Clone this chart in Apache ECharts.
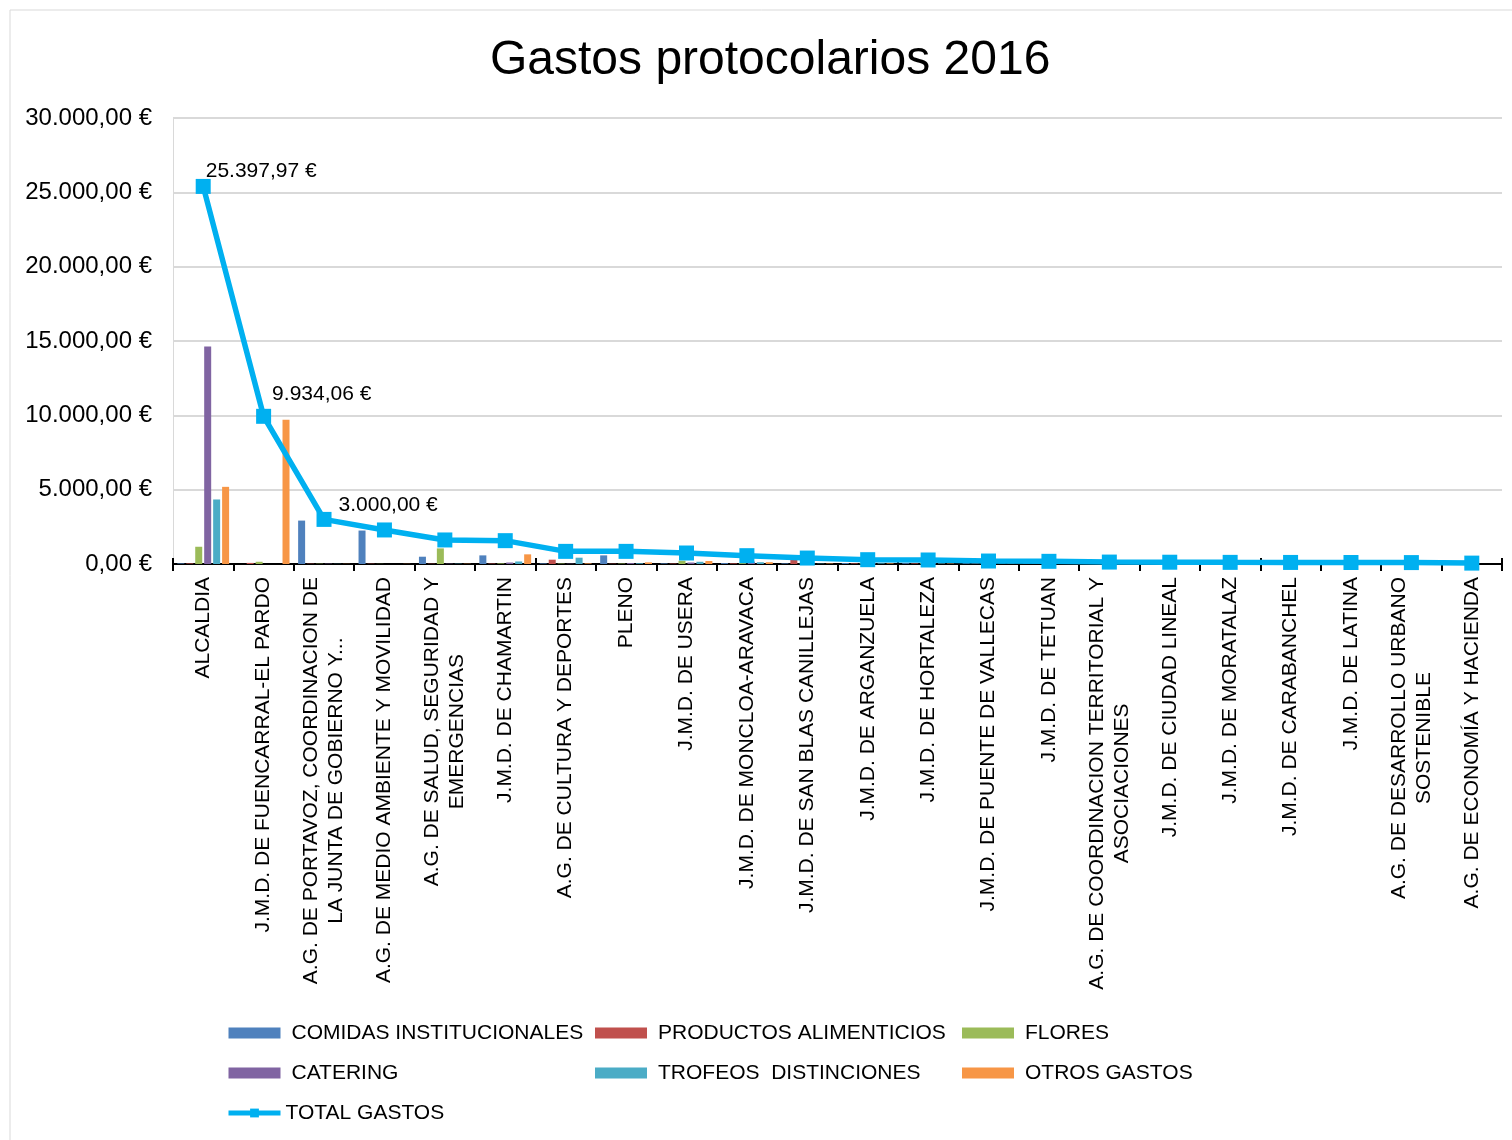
<!DOCTYPE html>
<html>
<head>
<meta charset="utf-8">
<title>Gastos protocolarios 2016</title>
<script src="https://cdn.jsdelivr.net/npm/echarts@6/dist/echarts.min.js"></script>
<style>
  html, body { margin: 0; padding: 0; background: #fff; }
  #main { width: 1512px; height: 1140px; }
</style>
</head>
<body>
<div id="main"></div>
<script>
// categorias (ordenadas por total)
const categorias = [
  "ALCALDIA",
  "J.M.D. DE FUENCARRAL-EL PARDO",
  "A.G. DE PORTAVOZ, COORDINACION DE\nLA JUNTA DE GOBIERNO Y...",
  "A.G. DE MEDIO AMBIENTE Y MOVILIDAD",
  "A.G. DE SALUD, SEGURIDAD Y\nEMERGENCIAS",
  "J.M.D. DE CHAMARTIN",
  "A.G. DE CULTURA Y DEPORTES",
  "PLENO",
  "J.M.D. DE USERA",
  "J.M.D. DE MONCLOA-ARAVACA",
  "J.M.D. DE SAN BLAS CANILLEJAS",
  "J.M.D. DE ARGANZUELA",
  "J.M.D. DE HORTALEZA",
  "J.M.D. DE PUENTE DE VALLECAS",
  "J.M.D. DE TETUAN",
  "A.G. DE COORDINACION TERRITORIAL Y\nASOCIACIONES",
  "J.M.D. DE CIUDAD LINEAL",
  "J.M.D. DE MORATALAZ",
  "J.M.D. DE CARABANCHEL",
  "J.M.D. DE LATINA",
  "A.G. DE DESARROLLO URBANO\nSOSTENIBLE",
  "A.G. DE ECONOMÍA Y HACIENDA"
];

// valores por concepto (estimados del grafico)
const comidas    = [40, 0, 2920, 2250, 490, 580, 40, 580, 40, 60, 40, 60, 50, 40, 40, 30, 30, 30, 30, 30, 30, 20];
const productos  = [40, 74, 20, 20, 20, 30, 290, 20, 30, 40, 270, 40, 40, 30, 30, 20, 20, 20, 20, 20, 20, 10];
const flores     = [1160, 150, 20, 10, 1050, 40, 30, 30, 220, 60, 20, 60, 60, 40, 40, 20, 20, 20, 20, 20, 20, 10];
const catering   = [14630, 0, 20, 0, 20, 100, 20, 60, 100, 160, 20, 50, 50, 30, 30, 20, 20, 20, 20, 15, 15, 10];
const trofeos    = [4340, 0, 10, 0, 20, 170, 425, 50, 150, 120, 20, 40, 40, 30, 20, 10, 10, 10, 10, 10, 5, 0];
const otros      = [5190, 9710, 10, 10, 17, 650, 45, 110, 200, 120, 30, 40, 30, 30, 20, 10, 10, 10, 5, 5, 5, 0];
const totalGastos = [25397.97, 9934.06, 3000.00, 2290, 1617, 1570, 850, 850, 740, 560, 400, 290, 270, 200, 180, 130, 120, 110, 105, 100, 95, 60];

// ticks del eje y
const yMin = 0, yMax = 30000, yPaso = 5000;

const fuente = "'Liberation Sans', Arial, sans-serif";

function euros(v, dec) {
  const partes = v.toFixed(dec).split(".");
  const entero = partes[0].replace(/\B(?=(\d{3})+(?!\d))/g, ".");
  return entero + "," + (partes[1] || "00") + " €";
}

const barras = [
  { name: "COMIDAS INSTITUCIONALES", data: comidas, color: "#4F81BD" },
  { name: "PRODUCTOS ALIMENTICIOS", data: productos, color: "#C0504D" },
  { name: "FLORES", data: flores, color: "#9BBB59" },
  { name: "CATERING", data: catering, color: "#8064A2" },
  { name: "TROFEOS  DISTINCIONES", data: trofeos, color: "#4BACC6" },
  { name: "OTROS GASTOS", data: otros, color: "#F79646" }
];

// posicion de las etiquetas del total (solo los tres primeros)
const etiquetaOffset = [[-5, -15], [1, -22], [7, -14]];

const serieTotal = {
  name: "TOTAL GASTOS",
  type: "line",
  xAxisIndex: 0,
  data: totalGastos.map((v, i) => {
    if (i < etiquetaOffset.length) {
      return {
        value: v,
        label: {
          show: true,
          position: "right",
          distance: 0,
          offset: etiquetaOffset[i],
          formatter: (p) => euros(p.value, 2),
          color: "#000",
          fontSize: 21,
          fontFamily: fuente
        }
      };
    }
    return v;
  }),
  symbol: "rect",
  symbolSize: 15,
  showAllSymbol: true,
  lineStyle: { width: 5.5, color: "#00B0F0" },
  itemStyle: { color: "#00B0F0" },
  z: 5
};

const legendBase = {
  orient: "vertical",
  top: 1021,
  padding: 0,
  itemWidth: 52,
  itemHeight: 11,
  itemGap: 16,
  selectedMode: false,
  textStyle: { fontSize: 21, lineHeight: 24, color: "#000", fontFamily: fuente, padding: [0, 0, 0, 6] }
};

function itemBarra(n) {
  return { name: n, icon: "rect" };
}

const chart = echarts.init(document.getElementById("main"));
chart.setOption({
  backgroundColor: "#fff",
  animation: false,
  textStyle: { fontFamily: fuente },
  graphic: [{
    type: "rect",
    shape: { x: 10, y: 10, width: 1520, height: 1160 },
    style: { fill: "none", stroke: "#d9d9d9", lineWidth: 1 },
    silent: true
  }],
  title: {
    text: "Gastos protocolarios 2016",
    left: 485,
    top: 32,
    textStyle: { fontSize: 48, fontWeight: "normal", color: "#000", fontFamily: fuente }
  },
  legend: [
    Object.assign({}, legendBase, {
      left: 226,
      data: [
        itemBarra("COMIDAS INSTITUCIONALES"),
        itemBarra("CATERING"),
        {
          name: "TOTAL GASTOS",
          lineStyle: { width: 5 },
          textStyle: { padding: [0, 0, 0, 0] }
        }
      ]
    }),
    Object.assign({}, legendBase, { left: 595, data: [itemBarra("PRODUCTOS ALIMENTICIOS"), itemBarra("TROFEOS  DISTINCIONES")] }),
    Object.assign({}, legendBase, { left: 962, data: [itemBarra("FLORES"), itemBarra("OTROS GASTOS")] })
  ],
  grid: { left: 173, right: 10, top: 118, bottom: 576 },
  xAxis: [
    {
      type: "category",
      data: categorias,
      boundaryGap: true,
      axisLine: { lineStyle: { color: "#000", width: 2 } },
      axisTick: { show: true, inside: false, length: 7, lineStyle: { color: "#000", width: 2 } },
      axisLabel: {
        interval: 0,
        rotate: 90,
        margin: 13,
        formatter: (v) => v.split("\n").map((l) => "{c|" + l + "}").join("\n"),
        rich: { c: { align: "center", fontSize: 21, lineHeight: 25, color: "#000", fontFamily: fuente } }
      }
    },
    {
      // marcas hacia arriba que cruzan el eje
      type: "category",
      data: categorias,
      position: "top",
      offset: -446,
      boundaryGap: true,
      axisLine: { show: false },
      axisTick: { show: true, inside: false, length: 6, lineStyle: { color: "#000", width: 2 } },
      axisLabel: { show: false }
    }
  ],
  yAxis: {
    type: "value",
    min: yMin,
    max: yMax,
    interval: yPaso,
    axisLine: { show: true, lineStyle: { color: "#d9d9d9", width: 1 } },
    axisTick: { show: false },
    splitLine: { lineStyle: { color: "#d9d9d9", width: 2 } },
    axisLabel: {
      margin: 21,
      fontSize: 24,
      color: "#000",
      fontFamily: fuente,
      formatter: (v) => euros(v, 2)
    }
  },
  series: barras.map((b) => ({
    name: b.name,
    type: "bar",
    xAxisIndex: 0,
    data: b.data,
    barWidth: 7,
    barGap: "28%",
    itemStyle: { color: b.color }
  })).concat([serieTotal])
});
</script>
</body>
</html>
